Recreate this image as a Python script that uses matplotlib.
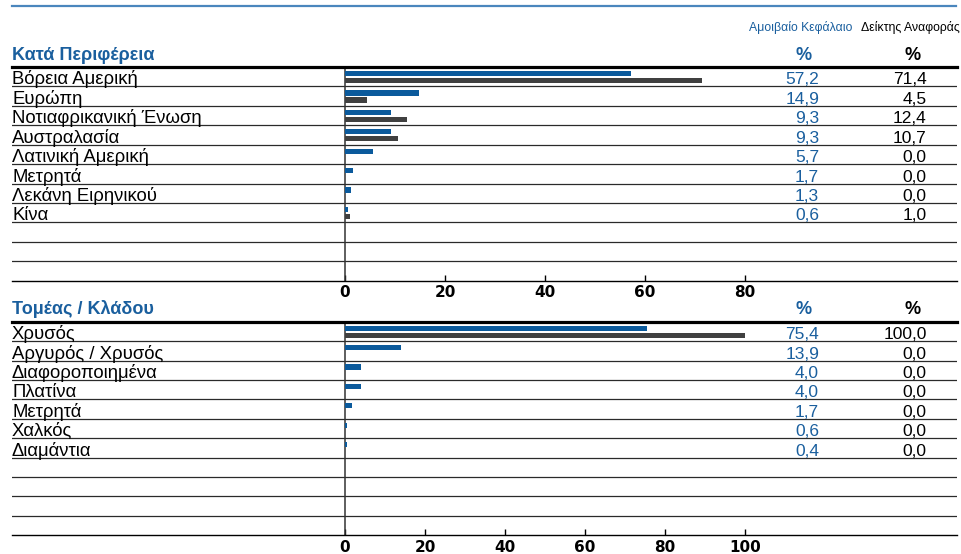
import matplotlib.pyplot as plt
from matplotlib.transforms import blended_transform_factory

# --- data ---
regions = ['Βόρεια Αμερική', 'Ευρώπη', 'Νοτιαφρικανική Ένωση', 'Αυστραλασία',
           'Λατινική Αμερική', 'Μετρητά', 'Λεκάνη Ειρηνικού', 'Κίνα']
region_fund = [57.2, 14.9, 9.3, 9.3, 5.7, 1.7, 1.3, 0.6]
region_index = [71.4, 4.5, 12.4, 10.7, 0.0, 0.0, 0.0, 1.0]

sectors = ['Χρυσός', 'Αργυρός / Χρυσός', 'Διαφοροποιημένα', 'Πλατίνα',
           'Μετρητά', 'Χαλκός', 'Διαμάντια']
sector_fund = [75.4, 13.9, 4.0, 4.0, 1.7, 0.6, 0.4]
sector_index = [100.0, 0.0, 0.0, 0.0, 0.0, 0.0, 0.0]

top_ticks = [0, 20, 40, 60, 80]
bottom_ticks = [0, 20, 40, 60, 80, 100]

BLUE = '#0b5a9c'
TXTBLUE = '#1a5f9e'
GRAY = '#404040'
W, H = 961, 554
NROWS = 11

plt.rcParams['font.family'] = ['Liberation Sans', 'DejaVu Sans']
NARROW = ['DejaVu Sans Condensed', 'Liberation Sans', 'DejaVu Sans']

fig = plt.figure(figsize=(W / 100, H / 100), dpi=100)


def fx(x):
    return x / W


def fy(y):
    return 1 - y / H


def panel(top_px, bottom_px, names, fund, index, px_per_unit, ticks):
    left_px, right_px = 12, 957
    ax = fig.add_axes([fx(left_px), fy(bottom_px),
                       (right_px - left_px) / W, (bottom_px - top_px) / H])
    ax.set_xlim((left_px - 345) / px_per_unit, (right_px - 345) / px_per_unit)
    ax.set_ylim(NROWS, 0)
    rows = list(range(len(names)))
    ax.barh([r + 0.335 for r in rows], fund, height=0.27, color=BLUE, zorder=3)
    ax.barh([r + 0.695 for r in rows], index, height=0.27, color=GRAY, zorder=3)
    for r in range(1, NROWS):
        ax.axhline(r, color='#2a2a2a', lw=0.9, zorder=1)
    ax.axvline(0, color='#333333', lw=1.1, zorder=2)
    for s in ['left', 'right']:
        ax.spines[s].set_visible(False)
    ax.spines['top'].set_linewidth(2.3)
    ax.spines['bottom'].set_linewidth(1.0)
    ax.set_yticks([])
    ax.set_xticks(ticks)
    ax.set_xticklabels([str(t) for t in ticks], fontweight='bold',
                       fontsize=11, family='DejaVu Sans')
    ax.tick_params(axis='x', direction='in', length=4, width=1, pad=3.2)
    tr = blended_transform_factory(ax.transAxes, ax.transData)
    for r, name in enumerate(names):
        ax.text(0, r + 0.9, name, transform=tr, fontsize=13.3, va='baseline', ha='left')
        ax.text(0.854, r + 0.9, f'{fund[r]:.1f}'.replace('.', ','), transform=tr,
                fontsize=12.5, color=TXTBLUE, va='baseline', ha='right')
        ax.text(0.968, r + 0.9, f'{index[r]:.1f}'.replace('.', ','), transform=tr,
                fontsize=12.5, color='black', va='baseline', ha='right')
    return ax


panel(67, 280.7, regions, region_fund, region_index, 5, top_ticks)
panel(321.7, 535.3, sectors, sector_fund, sector_index, 4, bottom_ticks)

# top rule of the (cropped) page header
fig.add_artist(plt.Line2D([fx(12), fx(956)], [fy(5.5), fy(5.5)],
                          color='#4a86bd', lw=1.6))

# column headers
fig.text(fx(801), fy(31.5), 'Αμοιβαίο Κεφάλαιο', color=TXTBLUE, fontsize=8.8,
         ha='center', va='baseline', family=NARROW)
fig.text(fx(910), fy(31.5), 'Δείκτης Αναφοράς', color='black', fontsize=8.8,
         ha='center', va='baseline', family=NARROW)

for y, title in [(60, 'Κατά Περιφέρεια'), (314, 'Τομέας / Κλάδου')]:
    fig.text(fx(12), fy(y), title, color=TXTBLUE, fontsize=13, fontweight='bold',
             ha='left', va='baseline')
    fig.text(fx(804), fy(y), '%', color=TXTBLUE, fontsize=13, fontweight='bold',
             ha='center', va='baseline')
    fig.text(fx(913), fy(y), '%', color='black', fontsize=13, fontweight='bold',
             ha='center', va='baseline')

fig.savefig('out.png', dpi=100)
